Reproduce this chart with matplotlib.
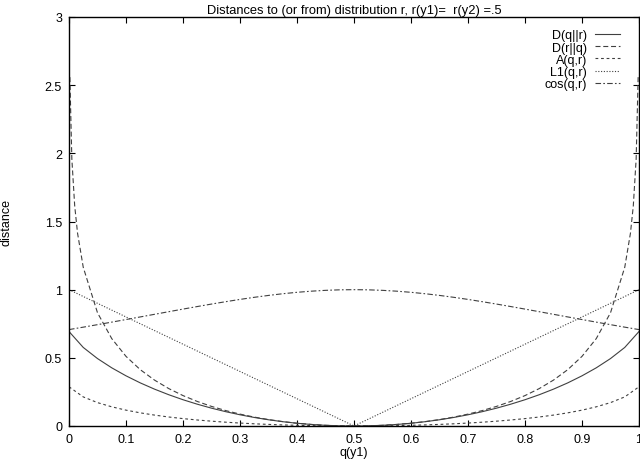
import matplotlib
matplotlib.use("Agg")
import matplotlib.pyplot as plt

# q(y1) grid
q = [0.0, 0.025, 0.05, 0.075, 0.1, 0.125, 0.15, 0.175, 0.2, 0.225, 0.25,
     0.275, 0.3, 0.325, 0.35, 0.375, 0.4, 0.425, 0.45, 0.475, 0.5,
     0.525, 0.55, 0.575, 0.6, 0.625, 0.65, 0.675, 0.7, 0.725, 0.75,
     0.775, 0.8, 0.825, 0.85, 0.875, 0.9, 0.925, 0.95, 0.975, 1.0]

D_qr = [0.6931, 0.5762, 0.4946, 0.4267, 0.3681, 0.3163, 0.2704, 0.2294, 0.1927, 0.1600, 0.1308,
        0.1050, 0.0823, 0.0626, 0.0457, 0.0316, 0.0201, 0.0113, 0.0050, 0.0013, 0.0,
        0.0013, 0.0050, 0.0113, 0.0201, 0.0316, 0.0457, 0.0626, 0.0823, 0.1050, 0.1308,
        0.1600, 0.1927, 0.2294, 0.2704, 0.3163, 0.3681, 0.4267, 0.4946, 0.5762, 0.6931]

q_rq = [0.0015, 0.005, 0.01, 0.015, 0.025, 0.05, 0.075, 0.1, 0.125, 0.15, 0.175, 0.2, 0.225, 0.25,
        0.275, 0.3, 0.325, 0.35, 0.375, 0.4, 0.425, 0.45, 0.475, 0.5,
        0.525, 0.55, 0.575, 0.6, 0.625, 0.65, 0.675, 0.7, 0.725, 0.75,
        0.775, 0.8, 0.825, 0.85, 0.875, 0.9, 0.925, 0.95, 0.975, 0.985, 0.99, 0.995, 0.9985]
D_rq = [2.5587, 1.9585, 1.6145, 1.4143, 1.1640, 0.8304, 0.6410, 0.5108, 0.4133, 0.3367, 0.2745, 0.2231, 0.1801, 0.1438,
        0.1131, 0.0872, 0.0653, 0.0472, 0.0323, 0.0204, 0.0114, 0.0050, 0.0013, 0.0,
        0.0013, 0.0050, 0.0114, 0.0204, 0.0323, 0.0472, 0.0653, 0.0872, 0.1131, 0.1438,
        0.1801, 0.2231, 0.2745, 0.3367, 0.4133, 0.5108, 0.6410, 0.8304, 1.1640, 1.4143, 1.6145, 1.9585, 2.5587]

A_qr = [0.2877, 0.2134, 0.1715, 0.1407, 0.1163, 0.0965, 0.0800, 0.0660, 0.0542, 0.0441, 0.0354,
        0.0279, 0.0216, 0.0162, 0.0117, 0.0080, 0.0051, 0.0028, 0.0013, 0.0003, 0.0,
        0.0003, 0.0013, 0.0028, 0.0051, 0.0080, 0.0117, 0.0162, 0.0216, 0.0279, 0.0354,
        0.0441, 0.0542, 0.0660, 0.0800, 0.0965, 0.1163, 0.1407, 0.1715, 0.2134, 0.2877]

q_l1 = [0.0, 0.5, 1.0]
L1_qr = [1.0, 0.0, 1.0]

cos_qr = [0.7071, 0.7250, 0.7433, 0.7619, 0.7809, 0.8000, 0.8192, 0.8384, 0.8575, 0.8762, 0.8944,
          0.9119, 0.9285, 0.9439, 0.9578, 0.9702, 0.9806, 0.9889, 0.9950, 0.9988, 1.0,
          0.9988, 0.9950, 0.9889, 0.9806, 0.9702, 0.9578, 0.9439, 0.9285, 0.9119, 0.8944,
          0.8762, 0.8575, 0.8384, 0.8192, 0.8000, 0.7809, 0.7619, 0.7433, 0.7250, 0.7071]

xticks = [0, 0.1, 0.2, 0.3, 0.4, 0.5, 0.6, 0.7, 0.8, 0.9, 1]
xticklabels = ["0", "0.1", "0.2", "0.3", "0.4", "0.5", "0.6", "0.7", "0.8", "0.9", "1"]
yticks = [0, 0.5, 1, 1.5, 2, 2.5, 3]
yticklabels = ["0", "0.5", "1", "1.5", "2", "2.5", "3"]

plt.rcParams['font.family'] = ['Liberation Sans', 'DejaVu Sans']
FS = 9

fig = plt.figure(figsize=(6.4, 4.6), dpi=100)
ax = fig.add_axes([69 / 640, 1 - 427 / 460, 570 / 640, 409 / 460])

lw = 0.8
col = '#404040'
ax.plot(q, D_qr, color=col, lw=lw, linestyle='-', label='D(q||r)')
ax.plot(q_rq, D_rq, color=col, lw=lw, linestyle=(0, (4.5, 2.5)), label='D(r||q)')
ax.plot(q, A_qr, color=col, lw=lw, linestyle=(0, (2.5, 2.5)), label='A(q,r)')
ax.plot(q_l1, L1_qr, color=col, lw=lw, linestyle=(0, (1, 1.5)), label='L1(q,r)')
ax.plot(q, cos_qr, color=col, lw=lw, linestyle=(0, (5, 2, 1.5, 2)), label='cos(q,r)')

ax.set_xlim(0, 1)
ax.set_ylim(0, 3)
ax.set_xticks(xticks)
ax.set_xticklabels(xticklabels, fontsize=FS)
ax.set_yticks(yticks)
ax.set_yticklabels(yticklabels, fontsize=FS)
ax.tick_params(direction='in', top=True, right=True, length=4, width=0.8, pad=5)
ax.tick_params(axis='x', pad=5)
for s in ax.spines.values():
    s.set_linewidth(1.0)

ax.set_title('Distances to (or from) distribution r, r(y1)=  r(y2) =.5', fontsize=9.3, pad=3)
ax.set_xlabel('q(y1)', fontsize=FS, labelpad=0.5)
ax.set_ylabel('distance', fontsize=FS, labelpad=23)

leg = ax.legend(loc='upper right', markerfirst=False, frameon=False, fontsize=FS,
                handlelength=2.0, handletextpad=0.65, labelspacing=0.02,
                borderaxespad=0.0, bbox_to_anchor=(0.976, 0.982))
for t in leg.get_texts():
    t.set_ha('right')

fig.savefig('out.png', dpi=100)
